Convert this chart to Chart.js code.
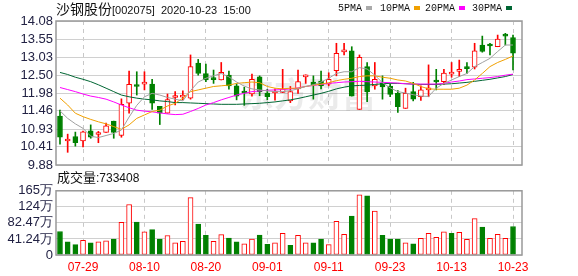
<!DOCTYPE html>
<html>
<head>
<meta charset="utf-8">
<script src="https://cdn.jsdelivr.net/npm/chart.js@4.4.0/dist/chart.umd.min.js"></script>
<style>
body{margin:0;background:#fff;width:578px;height:276px;overflow:hidden;position:relative;font-family:"Liberation Sans",Arial,sans-serif}
canvas{position:absolute;left:0}
#k{top:0}
#v{top:180px}
.t{position:absolute;white-space:nowrap;color:#111}
#title{left:56px;top:0;font-size:11px;line-height:17px}
#title b{font-weight:normal;font-size:14px;font-family:"Noto Sans CJK SC",sans-serif}
.lg{top:1px;font:10px "Liberation Mono",monospace;line-height:16px}
.lg i{display:inline-block;width:6px;height:4px;margin:0 0 1px 4px;vertical-align:middle}
#vl{left:57px;top:169px;font-size:12px;line-height:16px}
#vl b{font-weight:normal;font-size:13px;font-family:"Noto Sans CJK SC",sans-serif}
</style>
</head>
<body>
<canvas id="k" width="578" height="180"></canvas>
<canvas id="v" width="578" height="96"></canvas>
<div class="t" id="title"><b>沙钢股份</b>[002075]&nbsp; 2020-10-23&nbsp; 15:00</div>
<div class="t lg" style="left:338px">5PMA<i style="background:#aaa"></i></div>
<div class="t lg" style="left:380px">10PMA<i style="background:#f0a000"></i></div>
<div class="t lg" style="left:425px">20PMA<i style="background:#ff00ff"></i></div>
<div class="t lg" style="left:472px">30PMA<i style="background:#006633"></i></div>
<div class="t" id="vl"><b>成交量</b>:733408</div>
<script>
const dates=['07-24','07-27','07-28','07-29','07-30','07-31','08-03','08-04','08-05','08-06','08-07','08-10','08-11','08-12','08-13','08-14','08-17','08-18','08-19','08-20','08-21','08-24','08-25','08-26','08-27','08-28','08-31','09-01','09-02','09-03','09-04','09-07','09-08','09-09','09-10','09-11','09-14','09-15','09-16','09-17','09-18','09-21','09-22','09-23','09-24','09-25','09-28','09-29','09-30','10-09','10-12','10-13','10-14','10-15','10-16','10-19','10-20','10-21','10-22','10-23'];
const open=[11.31,10.58,10.71,10.58,10.88,10.77,10.83,11.16,10.74,11.68,12.20,12.24,12.24,11.59,11.39,11.85,11.86,11.83,12.85,12.55,12.40,12.36,12.50,12.19,12.00,11.95,12.45,11.98,11.98,12.00,11.75,12.10,12.45,12.30,12.33,12.24,12.63,13.18,13.21,11.50,12.75,12.19,12.26,12.18,11.97,11.53,12.02,11.87,12.07,12.36,12.31,12.53,12.61,12.71,12.73,13.38,13.37,13.33,13.66,13.60];
const high=[11.48,10.78,10.84,10.87,11.05,10.86,11.10,11.16,11.81,12.62,12.60,12.60,12.38,11.59,11.95,12.02,12.04,13.09,12.96,12.82,12.65,12.87,12.62,12.25,12.15,12.53,12.48,12.09,12.10,12.67,12.17,12.65,12.51,12.48,12.62,12.57,13.43,13.43,13.33,13.09,12.87,12.87,12.48,12.25,12.05,12.12,12.29,12.19,12.80,12.67,12.67,12.87,12.94,12.87,13.43,13.64,13.43,13.67,13.72,13.67];
const low=[10.49,10.25,10.43,10.41,10.66,10.53,10.83,10.66,10.69,11.39,11.92,12.07,11.50,11.06,11.39,11.63,11.78,11.80,12.50,12.31,12.26,12.36,12.09,11.78,11.62,11.89,11.90,11.78,11.77,11.99,11.70,11.97,12.26,11.80,12.10,12.19,12.48,13.09,11.89,11.50,11.73,12.09,11.80,11.87,11.41,11.53,11.75,11.76,11.87,12.07,12.23,12.44,12.46,12.55,12.68,13.17,13.09,13.33,13.38,12.65];
const close=[10.69,10.60,10.53,10.85,10.69,10.80,11.02,10.83,11.65,12.23,12.17,12.26,11.68,11.39,11.79,11.88,11.89,12.75,12.55,12.36,12.37,12.58,12.19,11.89,11.98,12.38,12.02,11.87,12.00,12.10,12.02,12.31,12.47,12.22,12.19,12.38,13.14,13.20,11.89,13.02,12.02,12.38,12.16,11.94,11.58,11.97,11.80,12.07,12.08,12.30,12.56,12.55,12.63,12.69,13.21,13.19,13.35,13.55,13.64,13.14];
const volume=[604000,338000,266000,379000,314000,338000,362000,411000,838000,1297000,846000,596000,652000,411000,500000,314000,354000,1474000,797000,507000,354000,524000,435000,338000,285000,411000,515000,273000,314000,560000,249000,507000,314000,314000,411000,266000,862000,532000,998000,1546000,1522000,1128000,507000,411000,411000,314000,290000,427000,556000,451000,596000,556000,580000,403000,935000,717000,427000,532000,427000,733408];
const ma5=[11.46,11.24,11.08,10.95,10.72,10.68,10.74,10.80,10.90,11.28,11.62,11.87,11.97,11.92,11.85,11.80,11.75,12.05,12.30,12.41,12.48,12.55,12.45,12.30,12.18,12.10,12.07,12.04,12.02,12.02,12.05,12.10,12.17,12.22,12.30,12.41,12.55,12.60,12.60,12.72,12.68,12.50,12.28,12.13,12.02,11.98,11.93,11.89,11.88,12.12,12.26,12.36,12.46,12.55,12.75,12.87,12.99,13.19,13.38,13.38];
const ma10=[11.83,11.63,11.39,11.29,11.21,11.14,11.08,11.00,10.92,11.05,11.24,11.34,11.44,11.48,11.60,11.68,11.83,12.02,12.07,12.12,12.17,12.19,12.21,12.26,12.28,12.30,12.28,12.17,12.12,12.10,12.12,12.12,12.17,12.21,12.24,12.28,12.34,12.38,12.41,12.46,12.48,12.48,12.44,12.41,12.36,12.33,12.26,12.17,12.10,12.09,12.09,12.09,12.12,12.21,12.36,12.55,12.75,12.87,12.96,13.06];
const ma20=[12.14,12.08,12.02,11.95,11.89,11.85,11.80,11.72,11.63,11.55,11.48,11.45,11.43,11.40,11.37,11.35,11.36,11.44,11.53,11.63,11.70,11.78,11.85,11.92,11.97,12.02,12.04,12.06,12.07,12.08,12.10,12.13,12.17,12.20,12.23,12.26,12.28,12.30,12.31,12.32,12.31,12.30,12.29,12.28,12.27,12.25,12.24,12.24,12.24,12.24,12.26,12.30,12.33,12.37,12.39,12.41,12.43,12.46,12.50,12.53];
const ma30=[12.58,12.52,12.44,12.38,12.31,12.22,12.12,12.02,11.92,11.87,11.83,11.80,11.78,11.75,11.73,11.70,11.70,11.69,11.68,11.67,11.66,11.65,11.65,11.65,11.66,11.67,11.68,11.70,11.72,11.75,11.78,11.82,11.87,11.92,11.97,12.03,12.10,12.15,12.19,12.20,12.21,12.23,12.25,12.26,12.26,12.25,12.24,12.23,12.23,12.23,12.24,12.25,12.27,12.29,12.32,12.35,12.38,12.42,12.46,12.52];
const priceTicks=[9.88,10.41,10.93,11.46,11.98,12.50,13.03,13.55,14.08];
const volTicks=[0,412400,824700,1237000,1649600];
const volTickLabels=['0','41.24万','82.47万','124万','165万'];
const xTickLabels=['07-29','08-10','08-20','09-01','09-11','09-23','10-13','10-23'];

const RED='#ff0000',GREEN='#008000',LABEL='#222244';
const idx=dates.map((d,i)=>i);
const up=idx.map(i=>close[i]>=open[i]);
const volUp=idx.map(i=>i===0?close[0]>=open[0]:close[i]>=close[i-1]);

// grey frame round the plot area
const frame={id:'frame',afterDraw(c){
  const a=c.chartArea,x=c.ctx;
  x.save();x.strokeStyle='#999';x.lineWidth=1.5;
  x.strokeRect(a.left,a.top,a.right-a.left,a.bottom-a.top);
  x.restore();
}};
const watermark={id:'wm',beforeDatasetsDraw(c){
  const x=c.ctx;
  x.save();x.fillStyle='rgba(0,0,0,0.08)';
  x.font='bold 34px "Noto Sans CJK SC"';x.textAlign='center';x.textBaseline='middle';
  x.fillText('东方财富',308,94);
  x.restore();
}};

function xScale(labels){
  return{type:'linear',min:-0.52,max:60.17,offset:false,
    afterBuildTicks:s=>{s.ticks=xTickLabels.map(d=>({value:dates.indexOf(d)}));},
    afterFit:s=>{s.height=labels?21:0;},
    grid:{color:'#c8c8c8',drawTicks:false,offset:false},
    border:{display:false,dash:[4,4]},
    ticks:{display:labels,color:RED,font:{size:12,family:'Liberation Sans'},padding:5,maxRotation:0,autoSkip:false,callback:v=>dates[v]||''}};
}
function yTicks(cb){
  return{color:LABEL,font:{size:13,family:'Liberation Sans'},padding:3,autoSkip:false,callback:cb};
}
function line(data,color){
  return{type:'line',data:data.map((v,i)=>({x:i,y:v})),borderColor:color,borderWidth:1,pointRadius:0,tension:0,order:1};
}

new Chart(document.getElementById('k'),{
  type:'bar',
  data:{datasets:[
    {data:idx.map(i=>({x:i,y:[low[i],high[i]]})),backgroundColor:idx.map(i=>up[i]?RED:GREEN),barThickness:1,grouped:false,order:3},
    {data:idx.map(i=>({x:i,y:[open[i],close[i]]})),backgroundColor:idx.map(i=>up[i]?'#fff':GREEN),
      borderColor:idx.map(i=>up[i]?RED:GREEN),borderWidth:1,borderSkipped:false,barThickness:5,minBarLength:2,grouped:false,order:2},
    line(ma5,'#a0a0a0'),line(ma10,'#f0a000'),line(ma20,'#ff00ff'),line(ma30,'#006633')
  ]},
  options:{responsive:false,animation:false,events:[],
    layout:{padding:{top:21,right:56,bottom:15,left:0}},
    plugins:{legend:{display:false},tooltip:{enabled:false}},
    scales:{
      x:xScale(false),
      y:{min:9.88,max:14.08,afterFit:s=>{s.width=56;},
        afterBuildTicks:s=>{s.ticks=priceTicks.map(v=>({value:v}));},
        grid:{color:'#d0d0d0',drawTicks:false},border:{display:false},
        ticks:yTicks(v=>v.toFixed(2))}
    }},
  plugins:[watermark,frame]
});

new Chart(document.getElementById('v'),{
  type:'bar',
  data:{datasets:[
    {data:idx.map(i=>({x:i,y:volume[i]})),backgroundColor:idx.map(i=>volUp[i]?'#fff':GREEN),
      borderColor:idx.map(i=>volUp[i]?RED:GREEN),borderWidth:1,borderSkipped:false,barThickness:5,grouped:false}
  ]},
  options:{responsive:false,animation:false,events:[],
    layout:{padding:{top:7,right:56,bottom:0,left:0}},
    plugins:{legend:{display:false},tooltip:{enabled:false}},
    scales:{
      x:xScale(true),
      y:{min:0,max:1649600,afterFit:s=>{s.width=56;},
        afterBuildTicks:s=>{s.ticks=volTicks.map(v=>({value:v}));},
        grid:{color:'#d0d0d0',drawTicks:false},border:{display:false},
        ticks:yTicks(v=>volTickLabels[volTicks.indexOf(v)])}
    }},
  plugins:[frame]
});
</script>
</body>
</html>
